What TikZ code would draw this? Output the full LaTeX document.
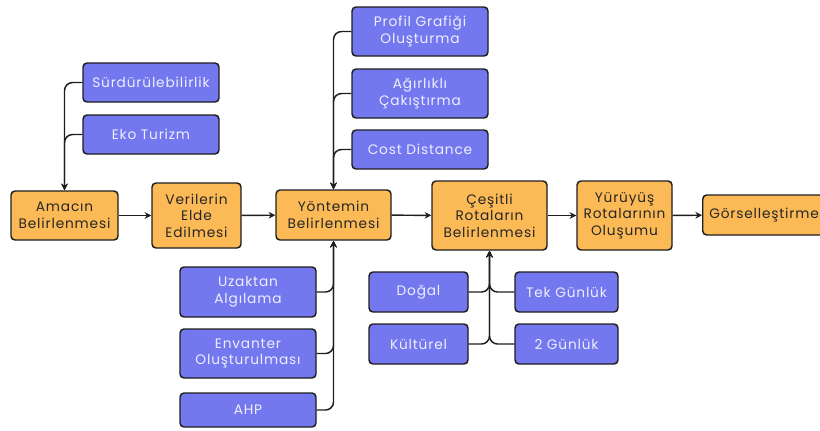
\documentclass[tikz,border=0pt]{standalone}
\usepackage{fontspec}
\setmainfont{Poppins}[LetterSpace=6]
\usetikzlibrary{arrows.meta}
\definecolor{orng}{HTML}{FCBA57}
\definecolor{blu}{HTML}{7478EE}
\definecolor{edge}{HTML}{1E1E1E}
\definecolor{subtxt}{HTML}{EEEEFF}
\begin{document}
\begin{tikzpicture}[x=0.75pt,y=-0.75pt,
 box/.style={draw=edge,line width=1.1pt,rounded corners=3pt,align=center,inner sep=0pt,
   font=\fontsize{10.3}{12.4}\selectfont},
 main/.style={box,fill=orng,text=black!85},
 sub/.style={box,fill=blu,text=subtxt},
 conn/.style={draw=edge,line width=1.1pt,rounded corners=6pt,-{Stealth[length=5pt,width=5pt]}}
]
\useasboundingbox (0,0) rectangle (820,430);
\begin{scope}
\clip (0,0) rectangle (820,430);
% main flow
\node[main,minimum width=80.25pt,minimum height=36.75pt] (amac) at (64.5,215.5) {Amacın\\Belirlenmesi};
\node[main,minimum width=66.75pt,minimum height=48.75pt] (veri) at (196.5,215.5) {Verilerin\\Elde\\Edilmesi};
\node[main,minimum width=86.25pt,minimum height=37.5pt] (yont) at (333.5,215) {Yöntemin\\Belirlenmesi};
\node[main,minimum width=86.25pt,minimum height=51.75pt] (cesit) at (489.5,215.5) {Çeşitli\\Rotaların\\Belirlenmesi};
\node[main,minimum width=71.25pt,minimum height=51.75pt] (yuru) at (624.5,215.5) {Yürüyüş\\Rotalarının\\Oluşumu};
\node[main,minimum width=92pt,minimum height=30pt,anchor=west] (gors) at (702,215) {Görselleştirme};
% sub nodes
\node[sub,minimum width=102pt,minimum height=29.25pt] (surd) at (151,82.5) {Sürdürülebilirlik};
\node[sub,minimum width=102pt,minimum height=29.25pt] (eko) at (151,134.5) {Eko Turizm};
\node[sub,minimum width=102pt,minimum height=36.75pt] (prof) at (420,31.5) {Profil Grafiği\\Oluşturma};
\node[sub,minimum width=102pt,minimum height=36.75pt] (agir) at (420,93.5) {Ağırlıklı\\Çakıştırma};
\node[sub,minimum width=102pt,minimum height=29.25pt] (cost) at (420,149.5) {Cost Distance};
\node[sub,minimum width=102pt,minimum height=37.5pt] (uzak) at (248,292) {Uzaktan\\Algılama};
\node[sub,minimum width=102pt,minimum height=36.75pt] (envt) at (248,353.5) {Envanter\\Oluşturulması};
\node[sub,minimum width=102pt,minimum height=25.5pt] (ahp) at (248,410) {AHP};
\node[sub,minimum width=74.25pt,minimum height=30pt] (dogal) at (418.5,292) {Doğal};
\node[sub,minimum width=74.25pt,minimum height=30pt] (kult) at (418.5,344) {Kültürel};
\node[sub,minimum width=77.25pt,minimum height=30pt] (tek) at (566.5,292) {Tek Günlük};
\node[sub,minimum width=77.25pt,minimum height=30pt] (iki) at (566.5,344) {2 Günlük};
\end{scope}
% main arrows
\draw[conn] (amac) -- (veri);
\draw[conn] (veri) -- (yont);
\draw[conn] (yont) -- (cesit);
\draw[conn] (cesit) -- (yuru);
\draw[conn] (yuru) -- (gors);
% branches
\draw[conn] (surd.west) -| (amac.north);
\draw[conn] (eko.west) -| (amac.north);
\draw[conn] (prof.west) -| (yont.north);
\draw[conn] (agir.west) -| (yont.north);
\draw[conn] (cost.west) -| (yont.north);
\draw[conn] (uzak.east) -| (yont.south);
\draw[conn] (envt.east) -| (yont.south);
\draw[conn] (ahp.east) -| (yont.south);
\draw[conn] (dogal.east) -| (cesit.south);
\draw[conn] (kult.east) -| (cesit.south);
\draw[conn] (tek.west) -| (cesit.south);
\draw[conn] (iki.west) -| (cesit.south);
\end{tikzpicture}
\end{document}
